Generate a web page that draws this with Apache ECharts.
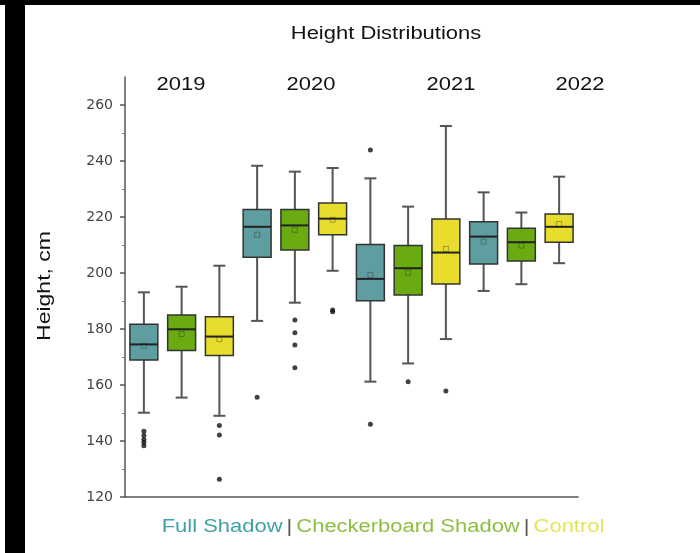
<!DOCTYPE html>
<html>
<head>
<meta charset="utf-8">
<script src="https://cdn.jsdelivr.net/npm/echarts@6/dist/echarts.min.js"></script>
<style>
  html, body { margin: 0; padding: 0; background: #fff; }
  #chart { width: 700px; height: 553px; }
</style>
</head>
<body>
<div id="chart"></div>
<script>
// groups and treatments
var years = ['2019', '2020', '2021', '2022'];
var treatments = ['Full Shadow', 'Checkerboard Shadow', 'Control'];
var boxColors = ['#5f9ea0', '#6aab12', '#e8dc2c'];
var legendColors = ['#3fa2a3', '#8cc043', '#e4e45c'];

// [lower whisker, Q1, median, Q3, upper whisker] per year
var fullShadowBox = [
    [150.1, 168.9, 174.5, 181.7, 193.1],
    [182.9, 205.6, 216.5, 222.7, 238.3],
    [161.2, 190.1, 197.9, 210.2, 233.8],
    [193.6, 203.2, 213.0, 218.3, 228.8]
];
var checkerBox = [
    [155.5, 172.3, 179.9, 185.0, 195.1],
    [189.4, 208.2, 217.0, 222.7, 236.2],
    [167.7, 192.1, 201.7, 209.8, 223.7],
    [196.0, 204.3, 211.0, 216.0, 221.6]
];
var controlBox = [
    [149.0, 170.5, 177.3, 184.4, 202.6],
    [200.8, 213.7, 219.4, 225.0, 237.5],
    [176.4, 196.1, 207.3, 219.3, 252.5],
    [203.5, 211.0, 216.5, 221.1, 234.4]
];

// means per year
var fullShadowMean = [174.0, 213.7, 199.3, 211.2];
var checkerMean = [178.2, 215.4, 200.1, 209.8];
var controlMean = [176.4, 219.0, 208.6, 217.5];

// outliers per year
var fullShadowOut = [[143.5, 142.0, 140.5, 139.5, 138.3], [155.6], [243.9, 146.0], []];
var checkerOut = [[], [183.2, 178.7, 174.3, 166.2], [161.2], []];
var controlOut = [[145.5, 142.1, 126.3], [186.8, 186.2], [157.9], []];

var yTicks = [120, 140, 160, 180, 200, 220, 240, 260];

var allBoxes = [fullShadowBox, checkerBox, controlBox];
var allMeans = [fullShadowMean, checkerMean, controlMean];
var allOut = [fullShadowOut, checkerOut, controlOut];

var categories = [];
years.forEach(function (y) {
    treatments.forEach(function (t) { categories.push(y + ' ' + t); });
});

var FONT = 'Liberation Sans';

function renderBox(params, api) {
    var idx = api.value(0);
    var lo = api.coord([idx, api.value(1)]);
    var q1 = api.coord([idx, api.value(2)]);
    var med = api.coord([idx, api.value(3)]);
    var q3 = api.coord([idx, api.value(4)]);
    var hi = api.coord([idx, api.value(5)]);
    var bw = api.size([1, 0])[0] * 0.74;
    var cap = 12;
    var cx = lo[0];
    var wStyle = { stroke: '#555', lineWidth: 2 };
    return {
        type: 'group',
        children: [
            { type: 'line', shape: { x1: cx, y1: lo[1], x2: cx, y2: q1[1] }, style: wStyle },
            { type: 'line', shape: { x1: cx, y1: q3[1], x2: cx, y2: hi[1] }, style: wStyle },
            { type: 'line', shape: { x1: cx - cap / 2, y1: lo[1], x2: cx + cap / 2, y2: lo[1] }, style: wStyle },
            { type: 'line', shape: { x1: cx - cap / 2, y1: hi[1], x2: cx + cap / 2, y2: hi[1] }, style: wStyle },
            {
                type: 'rect',
                shape: { x: cx - bw / 2, y: q3[1], width: bw, height: q1[1] - q3[1] },
                style: { fill: api.visual('color'), stroke: '#333', lineWidth: 1.5 }
            },
            { type: 'line', shape: { x1: cx - bw / 2, y1: med[1], x2: cx + bw / 2, y2: med[1] }, style: { stroke: '#222', lineWidth: 2 } }
        ]
    };
}

var series = [];
treatments.forEach(function (t, ti) {
    var boxData = [], meanData = [], outData = [];
    years.forEach(function (y, yi) {
        var idx = yi * 3 + ti;
        boxData.push([idx].concat(allBoxes[ti][yi]));
        meanData.push([idx, allMeans[ti][yi]]);
        allOut[ti][yi].forEach(function (v) { outData.push([idx, v]); });
    });
    series.push({
        name: t,
        type: 'custom',
        renderItem: renderBox,
        itemStyle: { color: boxColors[ti] },
        encode: { x: 0, y: [1, 2, 3, 4, 5] },
        data: boxData,
        z: 2
    });
    series.push({
        type: 'scatter',
        symbol: 'rect',
        symbolSize: 5,
        itemStyle: { color: 'rgba(0,0,0,0)', borderColor: 'rgba(40,40,40,0.45)', borderWidth: 1 },
        data: meanData,
        z: 3
    });
    series.push({
        type: 'scatter',
        symbol: 'circle',
        symbolSize: 5,
        itemStyle: { color: '#111' },
        data: outData,
        z: 3
    });
});

var chart = echarts.init(document.getElementById('chart'));

// the lettering in the picture is wide and low, so it is stretched sideways
var SX = 1.22;
var yearX = [181, 311, 451, 580];
var graphics = [
    { type: 'rect', shape: { x: 0, y: 0, width: 700, height: 5 }, style: { fill: '#000' } },
    { type: 'rect', shape: { x: 5, y: 0, width: 20, height: 553 }, style: { fill: '#000' } },
    {
        type: 'text', x: 386, y: 34, scaleX: SX,
        style: { text: 'Height Distributions', align: 'center', verticalAlign: 'middle', fontSize: 18, fill: '#111', fontFamily: FONT }
    },
    {
        type: 'text', x: 45, y: 286, rotation: Math.PI / 2, scaleY: 0.8,
        style: { text: 'Height, cm', align: 'center', verticalAlign: 'middle', fontSize: 23, fill: '#111', fontFamily: FONT }
    },
    {
        type: 'text', x: 383, y: 527, scaleX: SX,
        style: {
            text: '{a|' + treatments[0] + '} {s||} {b|' + treatments[1] + '} {s||} {c|' + treatments[2] + '}',
            align: 'center', verticalAlign: 'middle',
            rich: {
                a: { fill: legendColors[0], fontSize: 18, fontFamily: FONT },
                b: { fill: legendColors[1], fontSize: 18, fontFamily: FONT },
                c: { fill: legendColors[2], fontSize: 18, fontFamily: FONT },
                s: { fill: '#555', fontSize: 18, fontFamily: FONT }
            }
        }
    }
];
years.forEach(function (y, i) {
    graphics.push({
        type: 'text', x: yearX[i], y: 85, scaleX: SX,
        style: { text: y, align: 'center', verticalAlign: 'middle', fontSize: 18, fill: '#111', fontFamily: FONT }
    });
});

chart.setOption({
    animation: false,
    backgroundColor: '#fff',
    grid: { left: 125, right: 122, top: 77, bottom: 56 },
    xAxis: {
        type: 'category',
        data: categories,
        axisLine: { lineStyle: { color: '#555', width: 1.5 } },
        axisTick: { alignWithLabel: true, length: 5, lineStyle: { color: '#555', width: 1.5 } },
        axisLabel: { show: false },
        splitLine: { show: false }
    },
    yAxis: {
        type: 'value',
        min: 120,
        max: 270,
        interval: 20,
        axisLine: { show: true, lineStyle: { color: '#555', width: 1.5 } },
        axisTick: { show: true, length: 5, customValues: yTicks, lineStyle: { color: '#555', width: 1.5 } },
        minorTick: { show: true, splitNumber: 2, length: 3, lineStyle: { color: '#777' } },
        axisLabel: { customValues: yTicks, color: '#444', fontSize: 14, margin: 12, fontFamily: 'DejaVu Sans' },
        splitLine: { show: false }
    },
    graphic: graphics,
    series: series
});
</script>
</body>
</html>
